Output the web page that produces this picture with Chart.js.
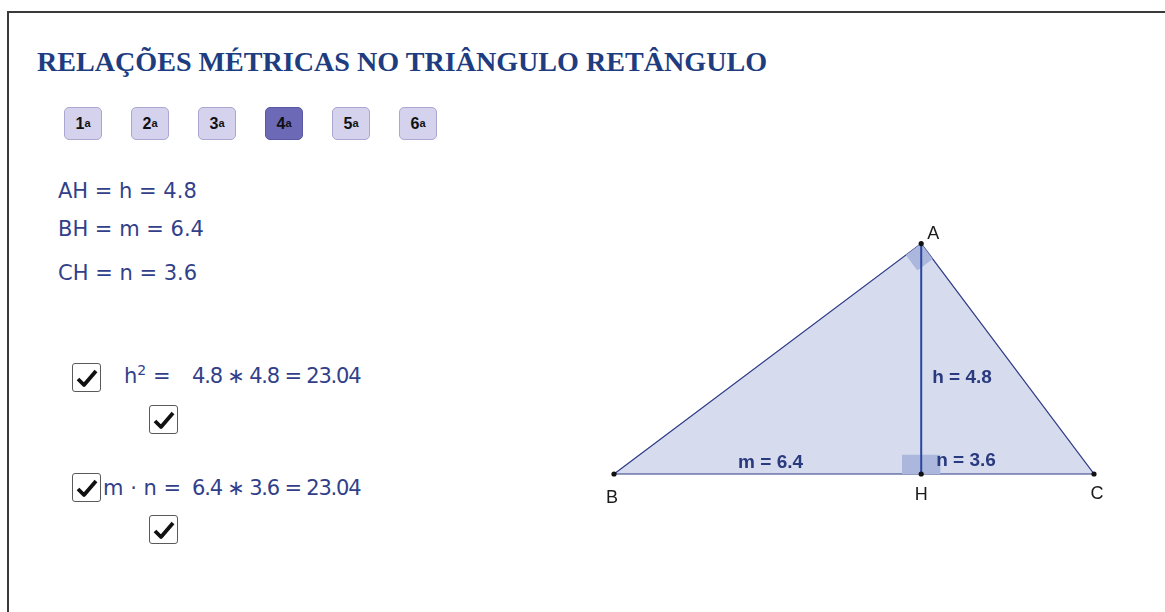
<!DOCTYPE html>
<html>
<head>
<meta charset="utf-8">
<script src="https://cdn.jsdelivr.net/npm/chart.js@4.4.1/dist/chart.umd.min.js"></script>
<style>
  html, body { margin: 0; padding: 0; background: #fff; }
  body { width: 1165px; height: 612px; position: relative; overflow: hidden; }
  .frame { position: absolute; left: 7px; top: 11px; width: 1170px; height: 620px;
           border-left: 2px solid #3a3a3a; border-top: 2px solid #3a3a3a; }
  .title { position: absolute; left: 37px; top: 48px; font: bold 28.1px "Liberation Serif", "Times New Roman", serif;
           color: #203c80; line-height: 28px; white-space: nowrap; }
  .btn { position: absolute; top: 107px; width: 38px; height: 33px; box-sizing: border-box;
         border: 1.5px solid #aaa8d0; border-radius: 5px; background: #d4d2ec;
         font: bold 16px "Liberation Sans", Arial, sans-serif; color: #111;
         display: flex; align-items: center; justify-content: center; }
  .btn.active { background: #6c6ab6; border-color: #5a58a4; }
  .btn sup { font-size: 11px; position: relative; top: -1px; }
  .math { position: absolute; font: 21px "DejaVu Sans", sans-serif; color: #323f8a; white-space: nowrap; line-height: 24px; }
  .math.tight { letter-spacing: -1.2px; }
  .math sup { font-size: 14px; line-height: 0; }
  .cb { position: absolute; width: 29px; height: 29px; box-sizing: border-box; border: 1.5px solid #5a5a5a;
        border-radius: 3px; background: #fff; }
  .cb svg { position: absolute; left: 3px; top: 4px; }
  #wrap { position: absolute; left: 566px; top: 210px; width: 576px; height: 336px; }
  #wrap canvas { display: block; }
</style>
</head>
<body>
<div class="frame"></div>
<div class="title">RELAÇÕES MÉTRICAS NO TRIÂNGULO RETÂNGULO</div>
<div id="buttons"></div>
<div id="texts"></div>
<div id="wrap"><canvas id="chart" width="576" height="336"></canvas></div>

<script>
/* Buttons on top of the sheet */
const buttonLabels = ['1', '2', '3', '4', '5', '6'];
const activeButton = 3;

/* Values of the triangle */
const pointNames = ['B', 'H', 'C', 'A'];
const pointX = [0, 6.4, 10, 6.4];
const pointY = [0, 0, 0, 4.8];
const segmentLabels = ['m = 6.4', 'h = 4.8', 'n = 3.6'];

/* Text lines on the left */
const relationLines = ['AH = h = 4.8', 'BH = m = 6.4', 'CH = n = 3.6'];
const productLines = ['4.8 \u2217 4.8 = 23.04', '6.4 \u2217 3.6 = 23.04'];

const markSize = 0.4;   // right angle mark, in axis units
const checkSvg = '<svg width="22" height="20" viewBox="0 0 22 20"><path d="M2 11 L8 17 L20 3" fill="none" stroke="#111" stroke-width="3.8" stroke-linejoin="round"/></svg>';

function buildPage() {
    const btnBox = document.getElementById('buttons');
    buttonLabels.forEach((b, i) => {
        const d = document.createElement('div');
        d.className = 'btn' + (i === activeButton ? ' active' : '');
        d.style.left = (64 + i * 67) + 'px';
        d.innerHTML = b + '<sup>a</sup>';
        btnBox.appendChild(d);
    });

    const txt = document.getElementById('texts');
    const relTops = [179, 217, 261];
    relationLines.forEach((line, i) => {
        const d = document.createElement('div');
        d.className = 'math';
        d.style.left = '58px';
        d.style.top = relTops[i] + 'px';
        d.textContent = line;
        txt.appendChild(d);
    });

    // checkboxes
    [[72, 363], [149, 405], [72, 473], [149, 515]].forEach(p => {
        const c = document.createElement('div');
        c.className = 'cb';
        c.style.left = p[0] + 'px';
        c.style.top = p[1] + 'px';
        c.innerHTML = checkSvg;
        txt.appendChild(c);
    });

    const h2 = document.createElement('div');
    h2.className = 'math';
    h2.style.left = '124px'; h2.style.top = '364px';
    h2.innerHTML = 'h<sup>2</sup> =';
    txt.appendChild(h2);

    const mn = document.createElement('div');
    mn.className = 'math';
    mn.style.left = '103px'; mn.style.top = '476px';
    mn.textContent = 'm \u00b7 n =';
    txt.appendChild(mn);

    productLines.forEach((line, i) => {
        const d = document.createElement('div');
        d.className = 'math tight';
        d.style.left = '192px';
        d.style.top = (i === 0 ? 364 : 476) + 'px';
        d.textContent = line;
        txt.appendChild(d);
    });
}

/* Turn index list into {x, y} points */
function pts(idx) {
    return idx.map(i => ({ x: pointX[i], y: pointY[i] }));
}

/* Square marking the right angle at A */
function markAtA() {
    const a = { x: pointX[3], y: pointY[3] };
    const unit = i => {
        const dx = pointX[i] - a.x, dy = pointY[i] - a.y;
        const len = Math.hypot(dx, dy);
        return { x: dx / len, y: dy / len };
    };
    const ub = unit(0), uc = unit(2);
    return [
        a,
        { x: a.x + markSize * ub.x, y: a.y + markSize * ub.y },
        { x: a.x + markSize * (ub.x + uc.x), y: a.y + markSize * (ub.y + uc.y) },
        { x: a.x + markSize * uc.x, y: a.y + markSize * uc.y },
        a
    ];
}

/* Both right angle squares at H */
function markAtH() {
    const hx = pointX[1], hy = pointY[1];
    return [
        { x: hx - markSize, y: hy },
        { x: hx - markSize, y: hy + markSize },
        { x: hx + markSize, y: hy + markSize },
        { x: hx + markSize, y: hy },
        { x: hx - markSize, y: hy }
    ];
}

/* Labels of points and segments */
const labelPlugin = {
    id: 'labels',
    afterDatasetsDraw(chart) {
        const { ctx, scales: { x, y } } = chart;
        const px = i => x.getPixelForValue(pointX[i]);
        const py = i => y.getPixelForValue(pointY[i]);
        ctx.save();
        ctx.fillStyle = '#1a1a1a';
        ctx.font = '18px "Liberation Sans", Arial, sans-serif';
        ctx.textBaseline = 'middle';
        ctx.textAlign = 'center';
        ctx.fillText(pointNames[0], px(0) - 2, py(0) + 24);
        ctx.fillText(pointNames[1], px(1), py(1) + 21);
        ctx.fillText(pointNames[2], px(2) + 3, py(2) + 20);
        ctx.textAlign = 'left';
        ctx.fillText(pointNames[3], px(3) + 6, py(3) - 10);

        ctx.fillStyle = '#2a3a7e';
        ctx.font = 'bold 19px "Liberation Sans", Arial, sans-serif';
        ctx.textAlign = 'center';
        ctx.fillText(segmentLabels[0], (px(0) + px(1)) / 2 + 3, py(0) - 11);
        ctx.textAlign = 'left';
        ctx.fillText(segmentLabels[1], px(1) + 11, (py(1) + py(3)) / 2 + 19);
        ctx.fillText(segmentLabels[2], px(1) + 15, py(1) - 13);
        ctx.restore();
    }
};

function buildChart() {
    const ctx = document.getElementById('chart').getContext('2d');
    new Chart(ctx, {
        type: 'scatter',
        data: {
            datasets: [
                {   // vertices
                    data: pts([0, 1, 2, 3]),
                    pointRadius: 2.6,
                    pointBackgroundColor: '#111',
                    pointBorderWidth: 0,
                    showLine: false,
                    order: 0
                },
                {   // altitude AH
                    data: pts([1, 3]),
                    showLine: true,
                    borderColor: '#2c46a0',
                    borderWidth: 2,
                    pointRadius: 0,
                    order: 1
                },
                {   // triangle ABC
                    data: pts([0, 3, 2, 0]),
                    showLine: true,
                    borderColor: '#2d3a86',
                    borderWidth: 1.2,
                    backgroundColor: '#d6dcee',
                    fill: 'shape',
                    pointRadius: 0,
                    order: 5
                },
                {   // right angle at A
                    data: markAtA(),
                    showLine: true,
                    borderWidth: 0,
                    borderColor: 'rgba(0,0,0,0)',
                    backgroundColor: '#abb7dc',
                    fill: 'shape',
                    pointRadius: 0,
                    order: 3
                },
                {   // right angles at H
                    data: markAtH(),
                    showLine: true,
                    borderWidth: 0,
                    borderColor: 'rgba(0,0,0,0)',
                    backgroundColor: '#abb7dc',
                    fill: 'shape',
                    pointRadius: 0,
                    order: 3
                }
            ]
        },
        options: {
            responsive: false,
            animation: false,
            layout: { padding: 0, autoPadding: false },
            scales: {
                x: { type: 'linear', min: -1, max: 11, display: false },
                y: { type: 'linear', min: -1.5, max: 5.5, display: false }
            },
            plugins: { legend: { display: false }, tooltip: { enabled: false } }
        },
        plugins: [labelPlugin]
    });
}

buildPage();
buildChart();
</script>
</body>
</html>
